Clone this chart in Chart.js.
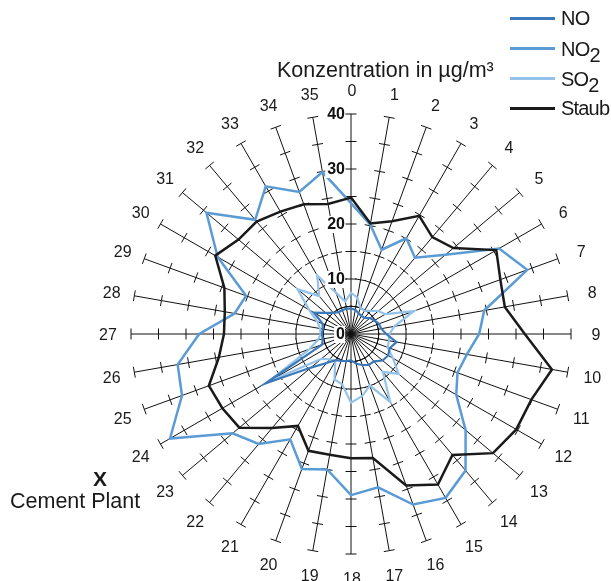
<!DOCTYPE html>
<html>
<head>
<meta charset="utf-8">
<script src="https://cdn.jsdelivr.net/npm/chart.js@4"></script>
<style>
body{margin:0;background:#fff;font-family:"Liberation Sans",Arial,sans-serif;color:#1a1a1a;}
#wrap{position:relative;width:611px;height:581px;overflow:hidden;}
#chart{position:absolute;left:0;top:0;}
.txt{position:absolute;white-space:nowrap;line-height:1;}
.leg{position:absolute;left:510px;width:45px;height:3px;}
.sub{position:relative;top:6px;}
</style>
</head>
<body>
<div id="wrap">
    <canvas id="chart" width="611" height="581"></canvas>
    <div class="txt" style="left:277px;top:60px;font-size:21.5px;">Konzentration in µg/m³</div>

    <div class="leg" style="top:17px;background:#3b78b9;"></div>
    <div class="txt" style="left:561px;top:8px;font-size:20px;letter-spacing:-0.8px;">NO</div>
    <div class="leg" style="top:47px;background:#5b9bd5;"></div>
    <div class="txt" style="left:561px;top:39px;font-size:20px;letter-spacing:-0.8px;">NO<span class="sub">2</span></div>
    <div class="leg" style="top:77px;background:#93c2ea;"></div>
    <div class="txt" style="left:561px;top:69px;font-size:20px;letter-spacing:-0.8px;">SO<span class="sub">2</span></div>
    <div class="leg" style="top:107px;background:#1a1a1a;"></div>
    <div class="txt" style="left:561px;top:98px;font-size:20px;letter-spacing:-0.8px;">Staub</div>

    <div class="txt" style="left:93px;top:468px;font-size:21px;font-weight:bold;">X</div>
    <div class="txt" style="left:10px;top:491px;font-size:21.5px;">Cement Plant</div>
</div>
<script>

/* DATA */
const spokeLabels = ["0","1","2","3","4","5","6","7","8","9","10","11","12","13","14","15","16","17",
    "18","19","20","21","22","23","24","25","26","27","28","29","30","31","32","33","34","35"];

const noValues = [4.6, 4.5, 4.0, 3.8, 3.8, 4.5, 4.9, 5.4, 5.6, 6.4, 8.4, 7.5, 7.8, 7.5, 6.5, 6.5, 6.0, 5.5,
    4.8, 5.0, 5.2, 5.5, 6.9, 9.5, 18.0, 5.6, 5.2, 5.3, 5.2, 5.5, 7.8, 6.0, 5.0, 4.6, 4.6, 4.7];

const no2Values = [23.8, 20.2, 16.3, 20.1, 18.1, 22.4, 31.1, 34.1, 24.6, 23.3, 21.4, 20.6, 22.1, 27.2, 32.4, 34.4, 33.0, 28.3,
    29.3, 25.0, 26.1, 22.1, 26.1, 28.1, 38.0, 32.7, 32.0, 27.6, 21.5, 20.3, 28.0, 34.3, 27.1, 31.0, 27.5, 29.9];

const so2Values = [7.5, 6.7, 5.0, 4.9, 5.5, 6.5, 7.2, 12.2, 8.0, 7.0, 7.0, 7.1, 8.8, 11.3, 9.0, 14.3, 10.0, 11.5,
    12.5, 9.3, 8.8, 5.7, 6.0, 7.0, 17.5, 8.0, 6.1, 5.5, 5.7, 6.5, 8.8, 12.7, 9.0, 12.3, 8.0, 6.0];

const staubValues = [24.8, 20.4, 21.8, 24.8, 23.0, 24.3, 30.5, 28.9, 28.4, 31.6, 37.1, 34.9, 34.7, 33.7, 28.7, 31.6, 29.3, 22.9,
    22.6, 22.3, 22.6, 19.3, 22.3, 26.5, 27.0, 27.5, 24.4, 23.1, 23.3, 24.5, 28.5, 26.7, 26.7, 25.7, 25.1, 24.0];

const spokeTickValues = [5, 10, 15, 20, 25, 30, 35, 40];
const valueLabels = [0, 10, 20, 30, 40];

/* SPOKE TICKS + LABELS */
const spokeDecor = {
    id: 'spokeDecor',
    beforeDatasetsDraw(chart){
        const r = chart.scales.r;
        const ctx = chart.ctx;
        ctx.save();
        ctx.strokeStyle = '#111';
        ctx.lineWidth = 1;
        spokeLabels.forEach((lbl, i) => {
            const a = r.getIndexAngle(i) - Math.PI / 2;
            const px = -Math.sin(a), py = Math.cos(a);
            spokeTickValues.forEach(v => {
                const p = r.getPointPositionForValue(i, v);
                ctx.beginPath();
                ctx.moveTo(p.x - px * 5.5, p.y - py * 5.5);
                ctx.lineTo(p.x + px * 5.5, p.y + py * 5.5);
                ctx.stroke();
            });
        });
        ctx.restore();
    },
    afterDatasetsDraw(chart){
        const r = chart.scales.r;
        const ctx = chart.ctx;
        ctx.save();

        // spoke numbers
        ctx.fillStyle = '#1a1a1a';
        ctx.font = '16px "Liberation Sans", Arial, sans-serif';
        ctx.textAlign = 'center';
        ctx.textBaseline = 'middle';
        spokeLabels.forEach((lbl, i) => {
            const p = r.getPointPosition(i, 244);
            ctx.fillText(lbl, p.x + 1, p.y + 2);
        });

        // value labels on spoke 0
        ctx.font = 'bold 16px "Liberation Sans", Arial, sans-serif';
        ctx.textAlign = 'right';
        valueLabels.forEach(v => {
            const p = r.getPointPositionForValue(0, v);
            const w = ctx.measureText(String(v)).width;
            ctx.fillStyle = '#fff';
            ctx.fillRect(p.x - 7 - w - 1, p.y - 8, w + 2, 17);
            ctx.fillStyle = '#111';
            ctx.fillText(String(v), p.x - 6, p.y + 1);
        });
        ctx.restore();
    }
};

new Chart(document.getElementById("chart"), {
    type: 'radar',
    data: {
        labels: spokeLabels,
        datasets: [
            {
                label: "Staub",
                data: staubValues,
                borderColor: "#1a1a1a",
                borderWidth: 2.5,
                fill: false,
                pointRadius: 0
            },
            {
                label: "NO",
                data: noValues,
                borderColor: "#3b78b9",
                borderWidth: 2.2,
                fill: false,
                pointRadius: 0
            },
            {
                label: "NO2",
                data: no2Values,
                borderColor: "#5b9bd5",
                borderWidth: 2.5,
                fill: false,
                pointRadius: 0
            },
            {
                label: "SO2",
                data: so2Values,
                borderColor: "#93c2ea",
                borderWidth: 2.2,
                fill: false,
                pointRadius: 0
            }
        ]
    },
    options: {
        responsive: false,
        animation: false,
        layout: {
            padding: { left: 131, right: 40, top: 114, bottom: 27 }
        },
        plugins: {
            legend: { display: false },
            tooltip: { enabled: false }
        },
        elements: {
            line: { tension: 0 }
        },
        scales: {
            r: {
                min: 0,
                max: 40,
                ticks: { display: false, stepSize: 5 },
                grid: { display: false },
                angleLines: { display: true, color: '#111', lineWidth: 1 },
                pointLabels: { display: false }
            }
        }
    },
    plugins: [spokeDecor]
});
</script>
</body>
</html>
